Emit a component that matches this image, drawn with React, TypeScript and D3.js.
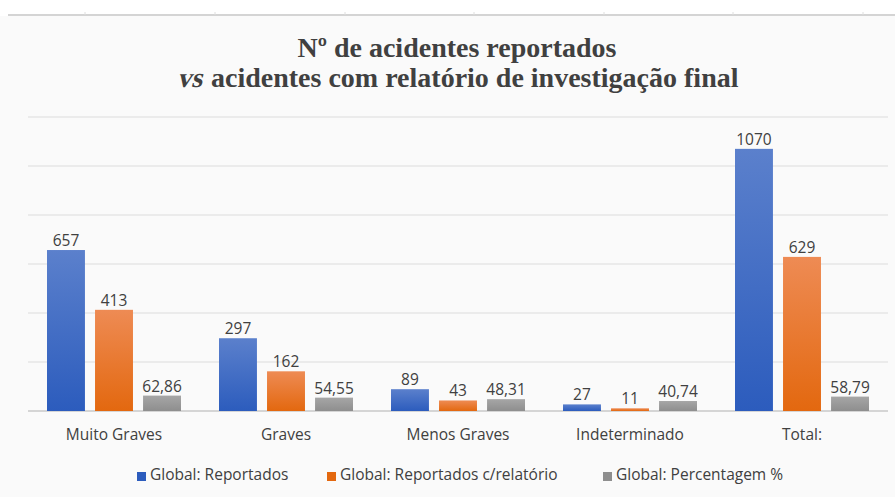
import * as d3 from "d3";
import React from "react";

const categories = ["Muito Graves", "Graves", "Menos Graves", "Indeterminado", "Total:"];
const seriesNames = ["Global: Reportados", "Global: Reportados c/relatório", "Global: Percentagem %"];
const reportados = [657, 297, 89, 27, 1070];
const comRelatorio = [413, 162, 43, 11, 629];
const percentagem = [62.86, 54.55, 48.31, 40.74, 58.79];
const yTicks = [0, 200, 400, 600, 800, 1000, 1200];

const W = 895;
const H = 497;
const plotLeft = 28;
const plotRight = 888;
const plotTop = 117;
const plotBottom = 411;

const colors = [
  ["#5b80cc", "#2c5cbd"],
  ["#ee8b54", "#e3680f"],
  ["#a6a6a6", "#8e8e8e"],
];
const legendX = [137, 327, 603];

const ptDecimal = d3.formatLocale({ decimal: ",", thousands: ".", grouping: [3], currency: ["", "€"] }).format(".2f");

export default function App() {
  const series = [reportados, comRelatorio, percentagem];
  const x0 = d3.scaleBand<string>().domain(categories).range([plotLeft, plotRight]).padding(0);
  const x1 = d3
    .scaleBand<number>()
    .domain([0, 1, 2])
    .range([19, x0.bandwidth() - 19])
    .paddingInner(0.21);
  const y = d3.scaleLinear().domain([0, 1200]).range([plotBottom, plotTop]);

  const topTicks = [85, 215, 345, 474, 604, 733, 863];
  const font = "'Open Sans', sans-serif";
  const serif = "'Liberation Serif', 'Times New Roman', serif";

  return (
    <svg
      width={W}
      height={H}
      style={{ position: "absolute", left: 0, top: 0, background: "#ffffff" }}
      fontFamily={font}
    >
      <defs>
        {colors.map((c, i) => (
          <linearGradient key={i} id={`g${i}`} x1="0" y1="0" x2="0" y2="1">
            <stop offset="0%" stopColor={c[0]} />
            <stop offset="100%" stopColor={c[1]} />
          </linearGradient>
        ))}
      </defs>
      <rect x={0} y={16} width={W} height={H - 16} fill="#fafafa" />
      <line x1={8} x2={W} y1={15} y2={15} stroke="#d4d4d4" strokeWidth={2} />
      {topTicks.map((t) => (
        <line key={t} x1={t} x2={t} y1={12} y2={15} stroke="#dedede" />
      ))}

      {/* title */}
      <text x={457} y={57} textAnchor="middle" fontFamily={serif} fontWeight="bold" fontSize={28} fill="#404040">
        Nº de acidentes reportados
      </text>
      <g transform="translate(177,87) skewX(-14)">
        <text x={0} y={0} fontFamily={serif} fontWeight="bold" fontSize={28} fill="#404040">
          vs
        </text>
      </g>
      <text x={211} y={87} fontFamily={serif} fontWeight="bold" fontSize={28} fill="#404040">
        acidentes com relatório de investigação final
      </text>

      {yTicks.map((t) => (
        <line
          key={t}
          x1={plotLeft}
          x2={plotRight}
          y1={y(t)}
          y2={y(t)}
          stroke={t === 0 ? "#c8c8c8" : "#dcdcdc"}
          strokeWidth={t === 0 ? 1.5 : 1.2}
        />
      ))}

      {categories.map((cat, ci) => (
        <g key={cat} transform={`translate(${x0(cat)},0)`}>
          {series.map((s, si) => {
            const v = s[ci];
            const bx = x1(si)!;
            const by = y(v);
            return (
              <g key={si}>
                <rect x={bx} y={by} width={x1.bandwidth()} height={plotBottom - by} fill={`url(#g${si})`} />
                <text
                  x={bx + x1.bandwidth() / 2}
                  y={by - 4}
                  textAnchor="middle"
                  fontSize={15.5}
                  fill="#404040"
                >
                  {si === 2 ? ptDecimal(v) : String(v)}
                </text>
              </g>
            );
          })}
          <text x={x0.bandwidth() / 2} y={440} textAnchor="middle" fontSize={15.5} fill="#404040">
            {cat}
          </text>
        </g>
      ))}

      {seriesNames.map((name, i) => (
        <g key={name} transform={`translate(${legendX[i]},0)`}>
          <rect x={0} y={472} width={9} height={9} fill={colors[i][1]} />
          <text x={13} y={480} fontSize={15.5} fill="#404040">
            {name}
          </text>
        </g>
      ))}
    </svg>
  );
}
